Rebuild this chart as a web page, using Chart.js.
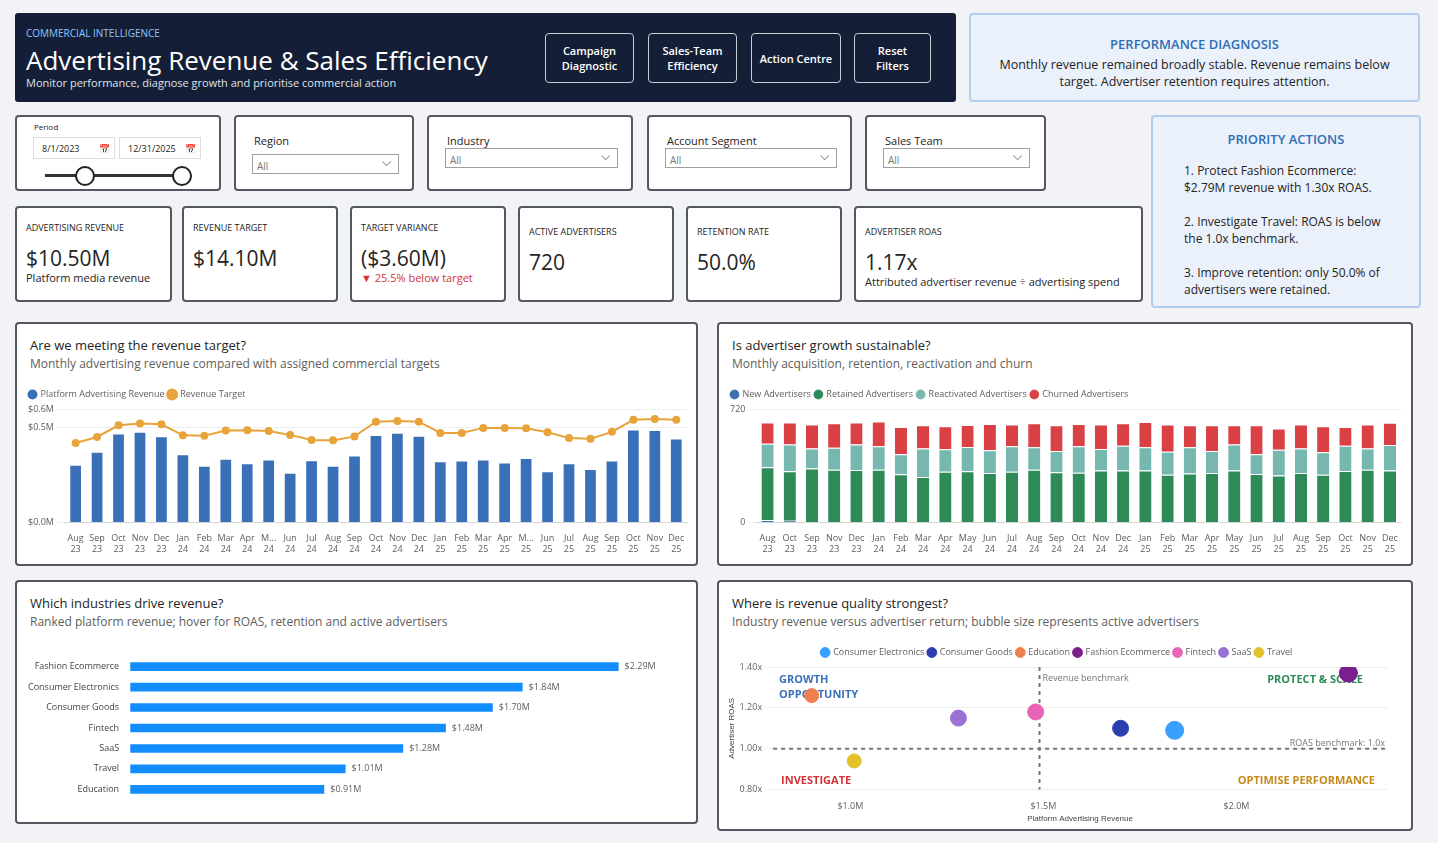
<!DOCTYPE html>
<html>
<head>
<meta charset="utf-8">
<script src="https://cdn.jsdelivr.net/npm/chart.js@4"></script>
<style>
  body { margin:0; width:1438px; height:843px; background:#f2f3f6; font-family:"Segoe UI","Open Sans",sans-serif; position:relative; overflow:hidden; color:#252423; }
  .box { position:absolute; box-sizing:border-box; }
  .card { background:#fff; border:2px solid #55595f; border-radius:4px; }
  .hdr { background:#141f37; border-radius:3px; color:#fff; }
  .btn { position:absolute; top:20px; height:50px; border:1px solid #c8ccd4; border-radius:4px; color:#fff; font-size:11px; font-weight:600; display:flex; align-items:center; justify-content:center; text-align:center; line-height:15px; box-sizing:border-box; }
  .blue { background:#eaf1fb; border:2px solid #b3cdee; border-radius:4px; text-align:center; }
  .ftitle { font-size:11px; position:absolute; left:18px; top:16px; }
  .sel { position:absolute; left:16px; border:1px solid #a0a0a0; height:20px; font-size:10px; color:#777; padding-left:4px; line-height:22px; box-sizing:border-box; }
  .sel:after { content:"⌵"; position:absolute; right:7px; top:-4px; color:#555; font-size:12px; }
  .kl { position:absolute; left:9px; top:13px; font-size:9px; }
  .kv { position:absolute; left:9px; top:36px; font-size:21px; }
  .ks { position:absolute; left:9px; top:62px; font-size:11px; }
  .ct { position:absolute; left:13px; top:12px; font-size:13px; }
  .cs { position:absolute; left:13px; top:31px; font-size:12px; color:#605e5c; }
</style>
</head>
<body>
<div class="box hdr" style="left:15px;top:13px;width:941px;height:89px;">
  <div style="position:absolute;left:11px;top:13px;font-size:10px;color:#8ec4ff;">COMMERCIAL INTELLIGENCE</div>
  <div style="position:absolute;left:11px;top:29px;font-size:26px;">Advertising Revenue &amp; Sales Efficiency</div>
  <div style="position:absolute;left:11px;top:62px;font-size:11px;color:#dfe3ea;">Monitor performance, diagnose growth and prioritise commercial action</div>
  <div class="btn" style="left:530px;width:89px;">Campaign<br>Diagnostic</div>
  <div class="btn" style="left:633px;width:89px;">Sales-Team<br>Efficiency</div>
  <div class="btn" style="left:736px;width:90px;">Action Centre</div>
  <div class="btn" style="left:839px;width:77px;">Reset<br>Filters</div>
</div>
<div class="box blue" style="left:969px;top:13px;width:451px;height:89px;">
  <div style="margin-top:20px;font-size:13px;color:#2f6db5;font-weight:600;">PERFORMANCE DIAGNOSIS</div>
  <div style="font-size:12.5px;margin-top:3px;line-height:17px;">Monthly revenue remained broadly stable. Revenue remains below<br>target. Advertiser retention requires attention.</div>
</div>

<div class="box card" style="left:15px;top:115px;width:206px;height:76px;">
  <div style="position:absolute;left:17px;top:4px;font-size:8px;">Period</div>
  <div style="position:absolute;left:16px;top:20px;width:82px;height:22px;border:1px solid #ddd;font-size:9px;line-height:22px;padding-left:8px;box-sizing:border-box;">8/1/2023 <span style="float:right;margin-right:4px">📅</span></div>
  <div style="position:absolute;left:102px;top:20px;width:82px;height:22px;border:1px solid #ddd;font-size:9px;line-height:22px;padding-left:8px;box-sizing:border-box;">12/31/2025 <span style="float:right;margin-right:4px">📅</span></div>
  <div style="position:absolute;left:28px;top:57px;width:138px;height:3px;background:#333;"></div>
  <div style="position:absolute;left:58px;top:49px;width:16px;height:16px;border:2px solid #222;border-radius:50%;background:#fff;"></div>
  <div style="position:absolute;left:155px;top:49px;width:16px;height:16px;border:2px solid #222;border-radius:50%;background:#fff;"></div>
</div>
<div class="box card" style="left:234px;top:115px;width:180px;height:76px;"><div class="ftitle">Region</div><div class="sel" style="top:37px;width:147px;">All</div></div>
<div class="box card" style="left:427px;top:115px;width:206px;height:76px;"><div class="ftitle">Industry</div><div class="sel" style="top:31px;width:173px;">All</div></div>
<div class="box card" style="left:647px;top:115px;width:205px;height:76px;"><div class="ftitle">Account Segment</div><div class="sel" style="top:31px;width:172px;">All</div></div>
<div class="box card" style="left:865px;top:115px;width:181px;height:76px;"><div class="ftitle">Sales Team</div><div class="sel" style="top:31px;width:147px;">All</div></div>

<div class="box blue" style="left:1151px;top:115px;width:270px;height:193px;text-align:left;">
  <div style="margin-top:13px;text-align:center;font-size:13px;color:#2f6db5;font-weight:600;">PRIORITY ACTIONS</div>
  <div style="margin:14px 0 0 31px;font-size:12px;line-height:17px;">1. Protect Fashion Ecommerce:<br>$2.79M revenue with 1.30x ROAS.<br><br>2. Investigate Travel: ROAS is below<br>the 1.0x benchmark.<br><br>3. Improve retention: only 50.0% of<br>advertisers were retained.</div>
</div>

<div class="box card" style="left:15px;top:206px;width:157px;height:96px;"><div class="kl">ADVERTISING REVENUE</div><div class="kv" style="top:36px">$10.50M</div><div class="ks">Platform media revenue</div></div>
<div class="box card" style="left:182px;top:206px;width:156px;height:96px;"><div class="kl">REVENUE TARGET</div><div class="kv">$14.10M</div></div>
<div class="box card" style="left:350px;top:206px;width:156px;height:96px;"><div class="kl">TARGET VARIANCE</div><div class="kv">($3.60M)</div><div class="ks" style="color:#d13438;">▼ 25.5% below target</div></div>
<div class="box card" style="left:518px;top:206px;width:156px;height:96px;"><div class="kl" style="top:17px">ACTIVE ADVERTISERS</div><div class="kv" style="top:40px">720</div></div>
<div class="box card" style="left:686px;top:206px;width:156px;height:96px;"><div class="kl" style="top:17px">RETENTION RATE</div><div class="kv" style="top:40px">50.0%</div></div>
<div class="box card" style="left:854px;top:206px;width:289px;height:96px;"><div class="kl" style="top:17px">ADVERTISER ROAS</div><div class="kv" style="top:40px">1.17x</div><div class="ks" style="top:66px">Attributed advertiser revenue ÷ advertising spend</div></div>

<div class="box card" style="left:15px;top:322px;width:683px;height:244px;">
  <div class="ct">Are we meeting the revenue target?</div><div class="cs">Monthly advertising revenue compared with assigned commercial targets</div>
  <div style="position:absolute;left:8px;top:62px;width:668px;height:172px;"><canvas id="revChart"></canvas></div>
</div>
<div class="box card" style="left:717px;top:322px;width:696px;height:244px;">
  <div class="ct">Is advertiser growth sustainable?</div><div class="cs">Monthly acquisition, retention, reactivation and churn</div>
  <div style="position:absolute;left:8px;top:62px;width:680px;height:172px;"><canvas id="advChart"></canvas></div>
</div>
<div class="box card" style="left:15px;top:580px;width:683px;height:244px;">
  <div class="ct">Which industries drive revenue?</div><div class="cs">Ranked platform revenue; hover for ROAS, retention and active advertisers</div>
  <div style="position:absolute;left:8px;top:66px;width:668px;height:160px;"><canvas id="indChart"></canvas></div>
</div>
<div class="box card" style="left:717px;top:580px;width:696px;height:251px;">
  <div class="ct">Where is revenue quality strongest?</div><div class="cs">Industry revenue versus advertiser return; bubble size represents active advertisers</div>
  <div style="position:absolute;left:8px;top:62px;width:680px;height:180px;"><canvas id="bubChart"></canvas></div>
</div>

<script>
const months = [["Aug","23"],["Sep","23"],["Oct","23"],["Nov","23"],["Dec","23"],["Jan","24"],["Feb","24"],["Mar","24"],["Apr","24"],["M...","24"],["Jun","24"],["Jul","24"],["Aug","24"],["Sep","24"],["Oct","24"],["Nov","24"],["Dec","24"],["Jan","25"],["Feb","25"],["Mar","25"],["Apr","25"],["M...","25"],["Jun","25"],["Jul","25"],["Aug","25"],["Sep","25"],["Oct","25"],["Nov","25"],["Dec","25"]];
const revenue = [0.30,0.368,0.465,0.475,0.45,0.355,0.295,0.331,0.308,0.327,0.258,0.324,0.295,0.349,0.457,0.469,0.453,0.318,0.322,0.327,0.312,0.335,0.266,0.308,0.277,0.322,0.486,0.483,0.438];
const target = [0.42,0.452,0.514,0.523,0.519,0.461,0.459,0.486,0.488,0.484,0.463,0.436,0.434,0.455,0.533,0.537,0.533,0.473,0.473,0.50,0.50,0.498,0.477,0.446,0.442,0.479,0.543,0.547,0.543];

const advMonths = [["Aug","23"],["Oct","23"],["Sep","23"],["Nov","23"],["Dec","23"],["Jan","24"],["Feb","24"],["Mar","24"],["Apr","24"],["May","24"],["Jun","24"],["Jul","24"],["Aug","24"],["Sep","24"],["Oct","24"],["Nov","24"],["Dec","24"],["Jan","25"],["Feb","25"],["Mar","25"],["Apr","25"],["May","25"],["Jun","25"],["Jul","25"],["Aug","25"],["Sep","25"],["Oct","25"],["Nov","25"],["Dec","25"]];
const newAdv = [15,10,0,0,0,0,0,0,0,0,0,0,0,0,0,0,0,0,0,0,0,0,0,0,0,0,0,0,0];
const retainedAdv = [335,314,342,334,332,334,306,288,321,324,313,321,334,319,316,329,329,329,303,311,313,329,308,298,313,303,326,334,329];
const reactivatedAdv = [150,171,127,140,163,150,127,181,143,155,145,163,143,134,168,137,158,148,145,166,140,166,125,163,156,143,161,135,163];
const churnedAdv = [135,140,153,156,140,156,173,148,147,140,166,138,153,164,140,156,143,160,174,140,164,122,184,135,153,165,119,153,140];

const industries = ["Fashion Ecommerce","Consumer Electronics","Consumer Goods","Fintech","SaaS","Travel","Education"];
const industryRevenue = [2.29,1.84,1.70,1.48,1.28,1.01,0.91];

const bubbleIndustries = ["Consumer Electronics","Consumer Goods","Education","Fashion Ecommerce","Fintech","SaaS","Travel"];
const bubbleRevenue = [1.84,1.70,0.90,2.29,1.48,1.28,1.01];
const bubbleRoas = [1.09,1.10,1.26,1.37,1.18,1.15,0.94];
const bubbleSize = [9,8,7,9,8,8,7];
const bubbleColors = ["#3aa0ff","#2b3fb0","#f07f4f","#7b1f8e","#e865b5","#9a72d6","#e3c12b"];

const tickFont = { size: 9, family: "Segoe UI, Open Sans, sans-serif" };
const tickColor = "#605e5c";
const legendCfg = { position: "top", align: "start", labels: { usePointStyle: true, pointStyle: "circle", boxWidth: 7, boxHeight: 7, padding: 4, font: tickFont, color: "#605e5c" } };

new Chart(document.getElementById("revChart"), {
  data: {
    labels: months,
    datasets: [
      { type: "line", label: "Revenue Target", data: target, borderColor: "#e8a33a", backgroundColor: "#e8a33a", borderWidth: 2, pointRadius: 3, order: 0 },
      { type: "bar", label: "Platform Advertising Revenue", data: revenue, backgroundColor: "#3a70b8", barPercentage: 0.5, categoryPercentage: 1, order: 1 },
    ],
  },
  options: {
    responsive: true, maintainAspectRatio: false, animation: false,
    plugins: { legend: { ...legendCfg, reverse: true }, tooltip: { enabled: false } },
    layout: { padding: { right: 6 } },
    scales: {
      x: { grid: { display: false }, ticks: { font: tickFont, color: tickColor, maxRotation: 0, autoSkip: false } },
      y: { min: 0, max: 0.6, ticks: { stepSize: 0.5, font: tickFont, color: tickColor, callback: (v) => "$" + v.toFixed(1) + "M" }, grid: { color: "#eeeeee" }, border: { display: false } },
    },
  },
});

new Chart(document.getElementById("advChart"), {
  type: "bar",
  data: {
    labels: advMonths,
    datasets: [
      { label: "New Advertisers", data: newAdv, backgroundColor: "#3f6fad" },
      { label: "Retained Advertisers", data: retainedAdv, backgroundColor: "#2e8b57" },
      { label: "Reactivated Advertisers", data: reactivatedAdv, backgroundColor: "#76b7b0" },
      { label: "Churned Advertisers", data: churnedAdv, backgroundColor: "#d94144" },
    ],
  },
  options: {
    responsive: true, maintainAspectRatio: false, animation: false,
    datasets: { bar: { barPercentage: 0.55, categoryPercentage: 1, borderColor: "#fff", borderWidth: { top: 1 } } },
    plugins: { legend: legendCfg, tooltip: { enabled: false } },
    layout: { padding: { right: 6 } },
    scales: {
      x: { stacked: true, grid: { display: false }, ticks: { font: tickFont, color: tickColor, maxRotation: 0, autoSkip: false } },
      y: { stacked: true, min: 0, max: 720, ticks: { stepSize: 500, font: tickFont, color: tickColor }, grid: { color: "#eeeeee" }, border: { display: false } },
    },
  },
});

const barValueLabels = {
  id: "barValueLabels",
  afterDatasetsDraw(chart) {
    const ctx = chart.ctx;
    const meta = chart.getDatasetMeta(0);
    ctx.save();
    ctx.font = "9px Segoe UI, Open Sans, sans-serif";
    ctx.fillStyle = "#605e5c";
    ctx.textBaseline = "middle";
    meta.data.forEach((bar, i) => {
      ctx.fillText("$" + industryRevenue[i].toFixed(2) + "M", bar.x + 6, bar.y);
    });
    ctx.restore();
  },
};

new Chart(document.getElementById("indChart"), {
  type: "bar",
  data: { labels: industries, datasets: [{ data: industryRevenue, backgroundColor: "#118dff", barPercentage: 0.42, categoryPercentage: 1 }] },
  options: {
    indexAxis: "y", responsive: true, maintainAspectRatio: false, animation: false,
    plugins: { legend: { display: false }, tooltip: { enabled: false } },
    layout: { padding: { right: 4 } },
    scales: {
      x: { display: false, min: 0, max: 2.62 },
      y: { grid: { display: false }, border: { display: false }, ticks: { font: tickFont, color: "#444" } },
    },
  },
  plugins: [barValueLabels],
});

const quadrants = {
  id: "quadrants",
  beforeDatasetsDraw(chart) {
    const { ctx, chartArea: a, scales: { x, y } } = chart;
    const bx = x.getPixelForValue(1.49), by = y.getPixelForValue(1.0);
    ctx.save();
    ctx.strokeStyle = "#777"; ctx.lineWidth = 2; ctx.setLineDash([4, 4]);
    ctx.beginPath(); ctx.moveTo(a.left, by); ctx.lineTo(a.right, by); ctx.stroke();
    ctx.beginPath(); ctx.moveTo(bx, a.top); ctx.lineTo(bx, a.bottom); ctx.stroke();
    ctx.setLineDash([]);
    ctx.font = "9px Segoe UI, Open Sans, sans-serif"; ctx.fillStyle = "#777";
    ctx.textAlign = "left"; ctx.fillText("Revenue benchmark", bx + 3, a.top + 11);
    ctx.textAlign = "right"; ctx.fillText("ROAS benchmark: 1.0x", a.right - 2, by - 5);
    ctx.font = "bold 11px Segoe UI, Open Sans, sans-serif";
    ctx.textAlign = "left"; ctx.fillStyle = "#3a70b8";
    ctx.fillText("GROWTH", a.left + 6, a.top + 13); ctx.fillText("OPPORTUNITY", a.left + 6, a.top + 28);
    ctx.fillStyle = "#d13438"; ctx.fillText("INVESTIGATE", a.left + 8, a.bottom - 9);
    ctx.textAlign = "right"; ctx.fillStyle = "#2e8b57"; ctx.fillText("PROTECT & SCALE", a.right - 24, a.top + 13);
    ctx.fillStyle = "#c58a1c"; ctx.fillText("OPTIMISE PERFORMANCE", a.right - 12, a.bottom - 9);
    ctx.restore();
  },
};

new Chart(document.getElementById("bubChart"), {
  type: "bubble",
  data: {
    datasets: bubbleIndustries.map((name, i) => ({
      label: name,
      data: [{ x: bubbleRevenue[i], y: bubbleRoas[i], r: bubbleSize[i] }],
      backgroundColor: bubbleColors[i], borderColor: bubbleColors[i],
    })),
  },
  options: {
    responsive: true, maintainAspectRatio: false, animation: false,
    plugins: { legend: { ...legendCfg, align: "center" }, tooltip: { enabled: false } },
    layout: { padding: { right: 20 } },
    scales: {
      x: { min: 0.8, max: 2.39, title: { display: true, text: "Platform Advertising Revenue", font: { size: 8 }, color: "#444", padding: 0 },
           afterBuildTicks: (s) => { s.ticks = [1.0, 1.5, 2.0].map((v) => ({ value: v })); },
           ticks: { font: tickFont, color: tickColor, callback: (v) => "$" + Number(v).toFixed(1) + "M" }, grid: { display: false }, border: { display: false } },
      y: { min: 0.8, max: 1.4, title: { display: true, text: "Advertiser ROAS", font: { size: 8 }, color: "#444", padding: 0 },
           ticks: { stepSize: 0.2, font: tickFont, color: tickColor, callback: (v) => v.toFixed(2) + "x" }, grid: { color: "#eeeeee" }, border: { display: false } },
    },
  },
  plugins: [quadrants],
});
</script>
</body>
</html>
